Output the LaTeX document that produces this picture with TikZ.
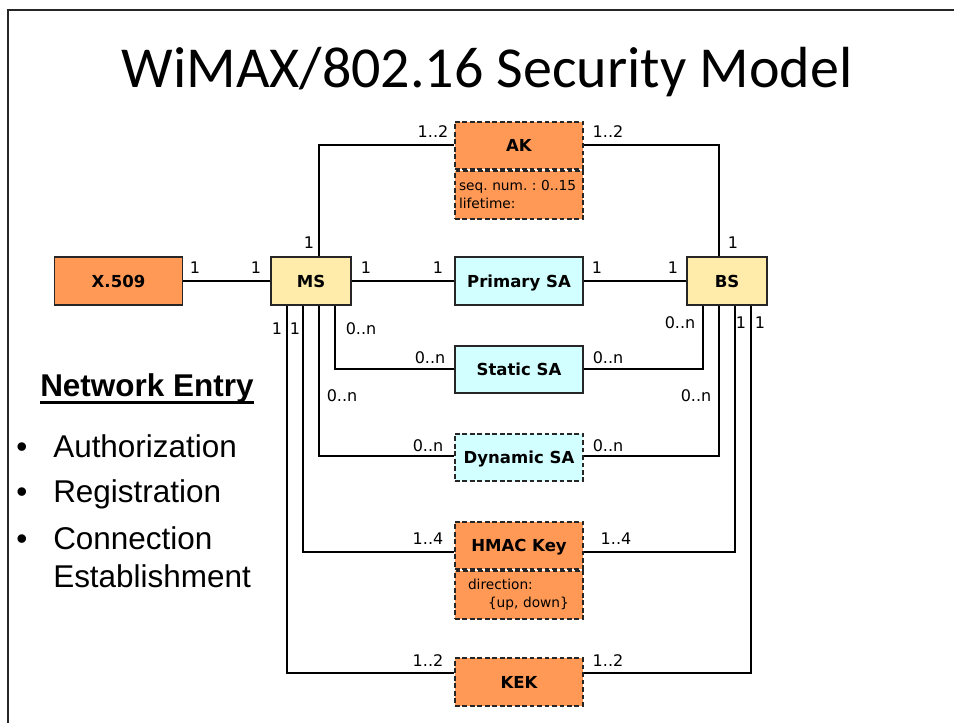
\documentclass[tikz,border=0pt]{standalone}
\usepackage{fontspec}
\setmainfont{DejaVu Sans}
\newfontfamily\titlefont{Carlito}
\newfontfamily\arialfont{Liberation Sans}
\usetikzlibrary{calc}
\frenchspacing

\definecolor{keyorange}{RGB}{255,153,85}
\definecolor{hostyellow}{RGB}{255,236,170}
\definecolor{sacyan}{RGB}{210,255,255}
\definecolor{edgegray}{RGB}{38,38,38}

\begin{document}
\begin{tikzpicture}[x=0.75pt,y=-0.75pt,
  box/.style={draw=edgegray, line width=1.3pt, minimum width=96pt,
    minimum height=35.6pt, inner sep=0pt, text depth=0pt,
    font=\fontsize{12.4}{14}\selectfont\bfseries},
  host/.style={box, fill=hostyellow, minimum width=60pt},
  sabox/.style={box, fill=sacyan},
  keybox/.style={box, fill=keyorange},
  optional/.style={dash pattern=on 3.6pt off 2pt},
  attr/.style={draw=edgegray, line width=1.3pt, optional, fill=keyorange,
    minimum height=36pt, inner ysep=0pt, align=left,
    font=\fontsize{10.3}{13.5}\selectfont},
  mult/.style={font=\fontsize{12}{13}\selectfont, inner sep=0pt},
  link/.style={line width=1.5pt, black},
  bigtext/.style={font=\arialfont\fontsize{23.6}{28}\selectfont, inner sep=0pt}
]
\useasboundingbox (0,0) rectangle (954,723);

% slide frame
\draw[line width=2pt, edgegray] (8,723) -- (8,10) -- (954,10);

% title
\node[font=\titlefont\fontsize{43.5}{50}\selectfont, anchor=base, inner sep=0pt]
  (title) at (487,88) {WiMAX/802.16 Security Model};

% entities
\node[keybox] (x509) at (118.5,281) {X.509};
\node[host] (ms) at (311,281) {MS};
\node[host] (bs) at (727,281) {BS};
\node[sabox] (psa) at (519,281) {Primary SA};
\node[sabox] (ssa) at (519,369.5) {Static SA};
\node[sabox, optional] (dsa) at (519,457.5) {Dynamic SA};

\node[keybox, optional] (ak) at (519,145.5) {AK};
\node[attr, anchor=north, inner xsep=3pt, text width=90pt] (akattr) at (ak.south)
  {\mbox{seq. num. : 0..15}\\lifetime:};

\node[keybox, optional] (hmac) at (519,545.5) {HMAC Key};
\node[attr, anchor=north, inner xsep=9.75pt, text width=76.5pt] (hmacattr) at (hmac.south)
  {direction:\\\mbox{\hspace*{15pt}\{up, down\}}};

\node[keybox, optional] (kek) at (519,682) {KEK};

% associations
\draw[link] (x509.east) -- (ms.west);
\draw[link] (ms.east) -- (psa.west);
\draw[link] (psa.east) -- (bs.west);
\draw[link] (ak.west) -| ($(ms.north)+(8,0)$);
\draw[link] (ak.east) -| ($(bs.north)+(-8,0)$);
\draw[link] ($(ms.south)+(24,0)$) |- (ssa.west);
\draw[link] (ssa.east) -| ($(bs.south)+(-24,0)$);
\draw[link] ($(ms.south)+(8,0)$) |- ($(dsa.west)+(0,-1.5)$);
\draw[link] ($(dsa.east)+(0,-1.5)$) -| ($(bs.south)+(-8,0)$);
\draw[link] ($(ms.south)+(-8,0)$) |- ($(hmac.west)+(0,6.5)$);
\draw[link] ($(hmac.east)+(0,6.5)$) -| ($(bs.south)+(8,0)$);
\draw[link] ($(ms.south)+(-24,0)$) |- ($(kek.west)+(0,-9)$);
\draw[link] ($(kek.east)+(0,-9)$) -| ($(bs.south)+(24,0)$);

% multiplicities
\node[mult] (m1) at (195,268) {1};
\node[mult] (m2) at (256,268) {1};
\node[mult] (m3) at (366,268) {1};
\node[mult] (m4) at (438,268) {1};
\node[mult] (m5) at (597,268) {1};
\node[mult] (m6) at (673,268) {1};
\node[mult] (m7) at (309,243) {1};
\node[mult] (m8) at (733,243) {1};
\node[mult] (m9) at (433,132) {1..2};
\node[mult] (m10) at (608,132) {1..2};
\node[mult] (m11) at (277,329) {1};
\node[mult] (m12) at (295,329) {1};
\node[mult] (m13) at (361,329) {0..n};
\node[mult] (m14) at (680,323) {0..n};
\node[mult] (m15) at (741,323) {1};
\node[mult] (m16) at (760,323) {1};
\node[mult] (m17) at (430,358) {0..n};
\node[mult] (m18) at (608,358) {0..n};
\node[mult] (m19) at (342,396) {0..n};
\node[mult] (m20) at (696,396) {0..n};
\node[mult] (m21) at (428,446) {0..n};
\node[mult] (m22) at (608,446) {0..n};
\node[mult] (m23) at (428,539) {1..4};
\node[mult] (m24) at (616,539) {1..4};
\node[mult] (m25) at (428,661) {1..2};
\node[mult] (m26) at (608,661) {1..2};

% network entry list
\node[bigtext, font=\arialfont\bfseries\fontsize{23.6}{28}\selectfont, anchor=base west]
  (netentry) at (40,397) {Network Entry};
\draw[line width=1.7pt] ($(netentry.base west)+(0,5.5)$) -- ($(netentry.base east)+(0,5.5)$);

\node[bigtext, anchor=base west] (b1) at (16,458) {•};
\node[bigtext, anchor=base west] (b2) at (16,503) {•};
\node[bigtext, anchor=base west] (b3) at (16,550) {•};
\node[bigtext, anchor=base west] (i1) at (53,458) {Authorization};
\node[bigtext, anchor=base west] (i2) at (53,503) {Registration};
\node[bigtext, anchor=base west] (i3) at (53,550) {Connection};
\node[bigtext, anchor=base west] (i4) at (53,588) {Establishment};
\end{tikzpicture}
\end{document}
